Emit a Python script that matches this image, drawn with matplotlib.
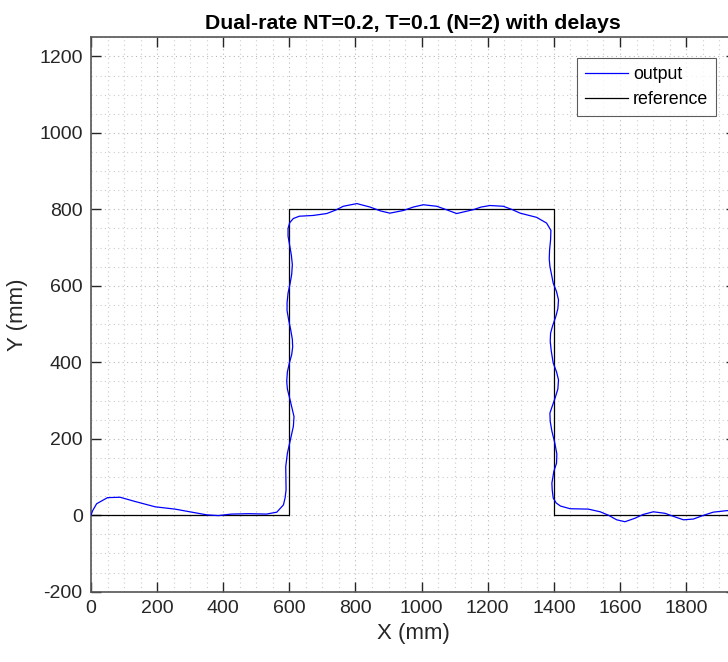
import matplotlib
matplotlib.use("Agg")
import matplotlib.pyplot as plt
from matplotlib.ticker import MultipleLocator

plt.rcParams['font.family'] = ['Liberation Sans', 'DejaVu Sans']
plt.rcParams['axes.unicode_minus'] = False

title = "Dual-rate NT=0.2, T=0.1 (N=2) with delays"
xlabel = "X (mm)"
ylabel = "Y (mm)"
legend_labels = ["output", "reference"]

ref_x = [0, 600, 600, 1400, 1400, 2000]
ref_y = [0, 0, 800, 800, 0, 0]

out_x = [0, 5, 17, 50, 88, 133, 194, 254, 305, 350, 385, 425, 476, 531, 562,
         582, 587, 590, 589, 594, 612, 614, 608, 602, 594, 592, 594, 600, 607,
         610, 609, 604, 598, 593, 593, 596, 602, 607, 609, 606, 601, 596, 596,
         601, 612, 630, 672, 713, 740, 763, 804, 844, 875, 904, 945, 975, 1005,
         1046, 1075, 1106, 1156, 1180, 1207, 1247, 1275, 1298, 1348, 1378, 1391,
         1390, 1387, 1386, 1388, 1398, 1408, 1414, 1412, 1406, 1396, 1390, 1389,
         1392, 1398, 1408, 1414, 1412, 1405, 1395, 1388, 1389, 1394, 1403, 1409,
         1408, 1400, 1394, 1395, 1398, 1407, 1420, 1449, 1504, 1540, 1565, 1590,
         1615, 1645, 1670, 1701, 1736, 1765, 1792, 1822, 1850, 1882, 1923, 1960]
out_y = [0, 12, 30, 46, 47, 36, 22, 16, 8, 1, -1, 3, 4, 3, 8,
         27, 45, 66, 127, 162, 232, 258, 280, 302, 330, 350, 375, 398, 420,
         440, 460, 485, 510, 535, 555, 581, 605, 630, 655, 680, 705, 730, 750,
         765, 776, 782, 784, 789, 798, 808, 815, 806, 796, 790, 797, 806, 812,
         808, 799, 789, 799, 806, 810, 808, 799, 790, 779, 764, 745,
         720, 694, 670, 651, 607, 585, 563, 540, 520, 495, 476, 455,
         430, 398, 375, 354, 330, 310, 285, 267, 245, 220, 188, 160,
         136, 115, 84, 66, 45, 32, 24, 17, 16, 9, 0, -12,
         -17, -8, 2, 9, 5, -4, -12, -10, -1, 8, 12, 12]

fig = plt.figure(figsize=(7.28, 6.62), dpi=100)
ax = fig.add_axes([0.125, 0.1062, 0.8856, 0.8375])

ax.plot(out_x, out_y, color='#0000ff', lw=0.9, label=legend_labels[0], zorder=3)
ax.plot(ref_x, ref_y, color='black', lw=0.9, label=legend_labels[1], zorder=2)

ax.set_xlim(0, 1950)
ax.set_ylim(-200, 1250)
ax.xaxis.set_major_locator(MultipleLocator(200))
ax.yaxis.set_major_locator(MultipleLocator(200))
ax.xaxis.set_minor_locator(MultipleLocator(50))
ax.yaxis.set_minor_locator(MultipleLocator(50))

ax.grid(which='major', linestyle=(0, (1, 3)), color='#b8b8b8', lw=0.8)
ax.grid(which='minor', linestyle=(0, (1, 3)), color='#cccccc', lw=0.8)
ax.set_axisbelow(True)

ax.tick_params(which='major', direction='in', length=7, width=1, colors='#262626',
               labelsize=14, top=True, right=True, pad=6)
ax.tick_params(which='minor', length=0)
for s in ax.spines.values():
    s.set_color('#555555')
    s.set_linewidth(1.2)

ax.set_title(title, fontsize=15.3, fontweight='bold', pad=6)
ax.set_xlabel(xlabel, fontsize=16, color='#262626', labelpad=4)
ax.set_ylabel(ylabel, fontsize=16, color='#262626', labelpad=8)

leg = ax.legend(loc='upper right', bbox_to_anchor=(0.97, 0.962), fontsize=12.8,
                frameon=True, fancybox=False, edgecolor='#333333',
                handlelength=2.4, handletextpad=0.3, borderpad=0.45,
                labelspacing=0.45, borderaxespad=0)
leg.get_frame().set_linewidth(0.8)

fig.savefig("out.png", dpi=100)
